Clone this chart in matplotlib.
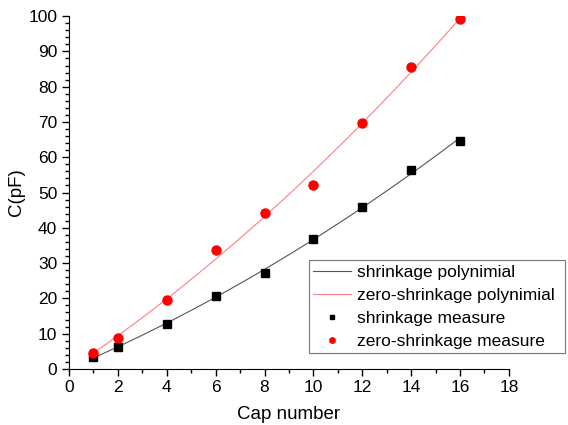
import matplotlib.pyplot as plt
import numpy as np
from matplotlib.ticker import MultipleLocator

plt.rcParams['font.family'] = ['Liberation Sans', 'DejaVu Sans']

# Measured capacitance vs cap number
cap_number = [1, 2, 4, 6, 8, 10, 12, 14, 16]
shrink = [3.3, 6.3, 12.8, 20.6, 27.3, 36.9, 45.8, 56.5, 64.7]
zero_shrink = [4.4, 8.8, 19.5, 33.7, 44.3, 52.1, 69.8, 85.5, 99.2]

# second order polynomial fits of the measurements
xs = np.linspace(min(cap_number), max(cap_number), 200)
fit_s = np.polyval(np.polyfit(cap_number, shrink, 2), xs)
fit_z = np.polyval(np.polyfit(cap_number, zero_shrink, 2), xs)

fig = plt.figure(figsize=(5.68, 4.25), dpi=100)
ax = fig.add_axes([0.1215, 0.132, 0.7745, 0.83])

ax.plot(xs, fit_s, color='#555555', lw=0.8, label='shrinkage polynimial')
ax.plot(xs, fit_z, color='#ff8080', lw=0.8, label='zero-shrinkage polynimial')
ax.plot(cap_number, shrink, 's', color='black', ms=6, ls='none',
        label='shrinkage measure')
ax.plot(cap_number, zero_shrink, 'o', color='#ff0000', ms=6.5, ls='none',
        label='zero-shrinkage measure')

ax.set_xlim(0, 18)
ax.set_ylim(0, 100)
ax.xaxis.set_major_locator(MultipleLocator(2))
ax.xaxis.set_minor_locator(MultipleLocator(1))
ax.yaxis.set_major_locator(MultipleLocator(10))
ax.yaxis.set_minor_locator(MultipleLocator(2))
ax.tick_params(which='major', direction='out', length=5, width=1, labelsize=12.5)
ax.tick_params(which='minor', direction='out', length=3, width=1)
ax.tick_params(axis='x', pad=3)
for s in ['top', 'right']:
    ax.spines[s].set_visible(False)

ax.set_xlabel('Cap number', fontsize=13.5, labelpad=8)
ax.set_ylabel('C(pF)', fontsize=13.5)
ax.yaxis.set_label_coords(-0.1, 0.5)

leg = ax.legend(loc='lower left', bbox_to_anchor=(0.545, 0.045, 0.583, 0.2),
                mode='expand', fontsize=12.5,
                frameon=True, fancybox=False, edgecolor='#555555',
                handlelength=2.2, handletextpad=0.35, borderpad=0.25,
                labelspacing=0.45, markerscale=0.6, borderaxespad=0)
leg.get_frame().set_linewidth(0.8)

fig.savefig('out.png', dpi=100)
